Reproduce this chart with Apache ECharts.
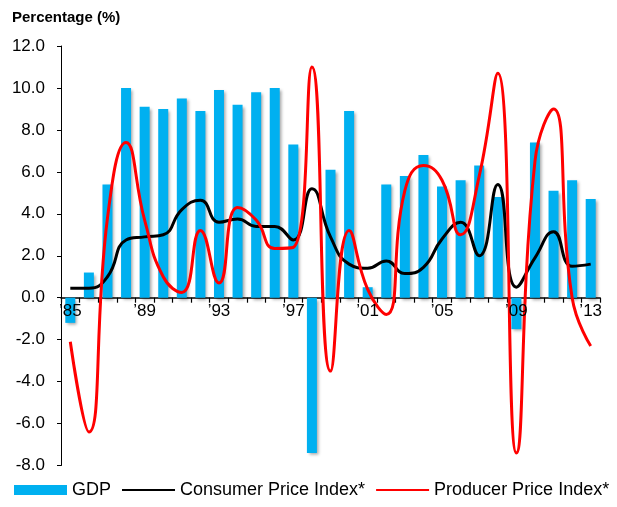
<!DOCTYPE html>
<html>
<head>
<meta charset="utf-8">
<script src="https://cdn.jsdelivr.net/npm/echarts@6/dist/echarts.min.js"></script>
<style>
  html, body { margin: 0; padding: 0; background: #fff; }
  #chart { width: 617px; height: 507px; }
</style>
</head>
<body>
<div id="chart"></div>
<script>
// years 1985..2013, tick labels shown every 4th year
const years = ['85','86','87','88','89','90','91','92','93','94','95','96','97','98','99',
               '00','01','02','03','04','05','06','07','08','09','10','11','12','13'];

const gdp = [-1.2, 1.2, 5.4, 10.0, 9.1, 9.0, 9.5, 8.9, 9.9, 9.2, 9.8, 10.0, 7.3, -7.4, 6.1,
             8.9, 0.5, 5.4, 5.8, 6.8, 5.3, 5.6, 6.3, 4.8, -1.5, 7.4, 5.1, 5.6, 4.7];

const cpi = [0.45, 0.45, 1.0, 2.75, 2.9, 3.0, 4.2, 4.65, 3.6, 3.75, 3.4, 3.4, 2.75, 5.2, 2.9,
             1.6, 1.4, 1.75, 1.15, 1.45, 2.8, 3.6, 2.0, 5.4, 0.5, 1.9, 3.15, 1.5, 1.6];

const ppi = [-2.1, -6.4, 3.8, 7.4, 3.7, 1.0, 0.25, 3.2, 0.7, 4.3, 3.7, 2.35, 2.4, 11.0, -3.5,
             3.2, 0.4, -0.8, 5.1, 6.3, 5.6, 3.0, 5.8, 10.7, -7.4, 6.5, 9.0, 0.0, -2.3];

const yMin = -8, yMax = 12;
const gridTop = 46, gridBottom = 41.5, chartH = 507;

// labels sit just under the zero line, so shift the label axis up from the grid bottom
const plotH = chartH - gridTop - gridBottom;
const zeroOffset = -plotH * (0 - yMin) / (yMax - yMin);

const chart = echarts.init(document.getElementById('chart'));

const option = {
  animation: false,
  textStyle: { fontFamily: 'Liberation Sans, Arial, sans-serif' },
  title: {
    text: 'Percentage (%)',
    left: 7,
    top: 5,
    textStyle: { fontSize: 15, fontWeight: 'bold', color: '#000' }
  },
  legend: {
    left: 9,
    bottom: 3,
    itemWidth: 53,
    itemHeight: 10,
    itemGap: 10,
    textStyle: { fontSize: 18, color: '#000' },
    data: [
      { name: 'GDP', icon: 'rect' },
      { name: 'Consumer Price Index*', itemStyle: { opacity: 0 } },
      { name: 'Producer Price Index*', itemStyle: { opacity: 0 } }
    ]
  },
  grid: {
    left: 61,
    right: 17,
    top: gridTop,
    bottom: gridBottom
  },
  xAxis: [
    {
      // line + ticks on the zero line
      type: 'category',
      data: years,
      axisLine: { show: true, onZero: true, lineStyle: { color: '#000', width: 1.5 } },
      axisTick: { show: true, length: 5, interval: 0, lineStyle: { color: '#000', width: 1.2 } },
      axisLabel: { show: false }
    },
    {
      // tick labels only
      type: 'category',
      data: years,
      position: 'bottom',
      offset: zeroOffset,
      axisLine: { show: false, onZero: false },
      axisTick: { show: false },
      axisLabel: {
        interval: 3,
        margin: 5,
        fontSize: 17,
        color: '#000',
        formatter: (v) => '\u2019' + v
      },
      z: 5
    }
  ],
  yAxis: {
    type: 'value',
    min: yMin,
    max: yMax,
    interval: 2,
    splitLine: { show: false },
    axisLine: { show: true, lineStyle: { color: '#000', width: 1 } },
    axisTick: { show: true, length: 4, lineStyle: { color: '#000' } },
    axisLabel: {
      margin: 16,
      fontSize: 17,
      color: '#000',
      formatter: (v) => v.toFixed(1)
    }
  },
  series: [
    {
      name: 'GDP',
      type: 'bar',
      data: gdp,
      barWidth: 10,
      itemStyle: {
        color: '#00B0F0',
        shadowColor: 'rgba(0,0,0,0.35)',
        shadowBlur: 3,
        shadowOffsetX: 2,
        shadowOffsetY: 2
      }
    },
    {
      name: 'Consumer Price Index*',
      type: 'line',
      data: cpi,
      smooth: 0.5,
      symbol: 'none',
      lineStyle: { color: '#000', width: 3 },
      itemStyle: { color: '#000' }
    },
    {
      name: 'Producer Price Index*',
      type: 'line',
      data: ppi,
      smooth: 0.5,
      symbol: 'none',
      lineStyle: { color: '#FF0000', width: 3 },
      itemStyle: { color: '#FF0000' }
    }
  ]
};

chart.setOption(option);
</script>
</body>
</html>
